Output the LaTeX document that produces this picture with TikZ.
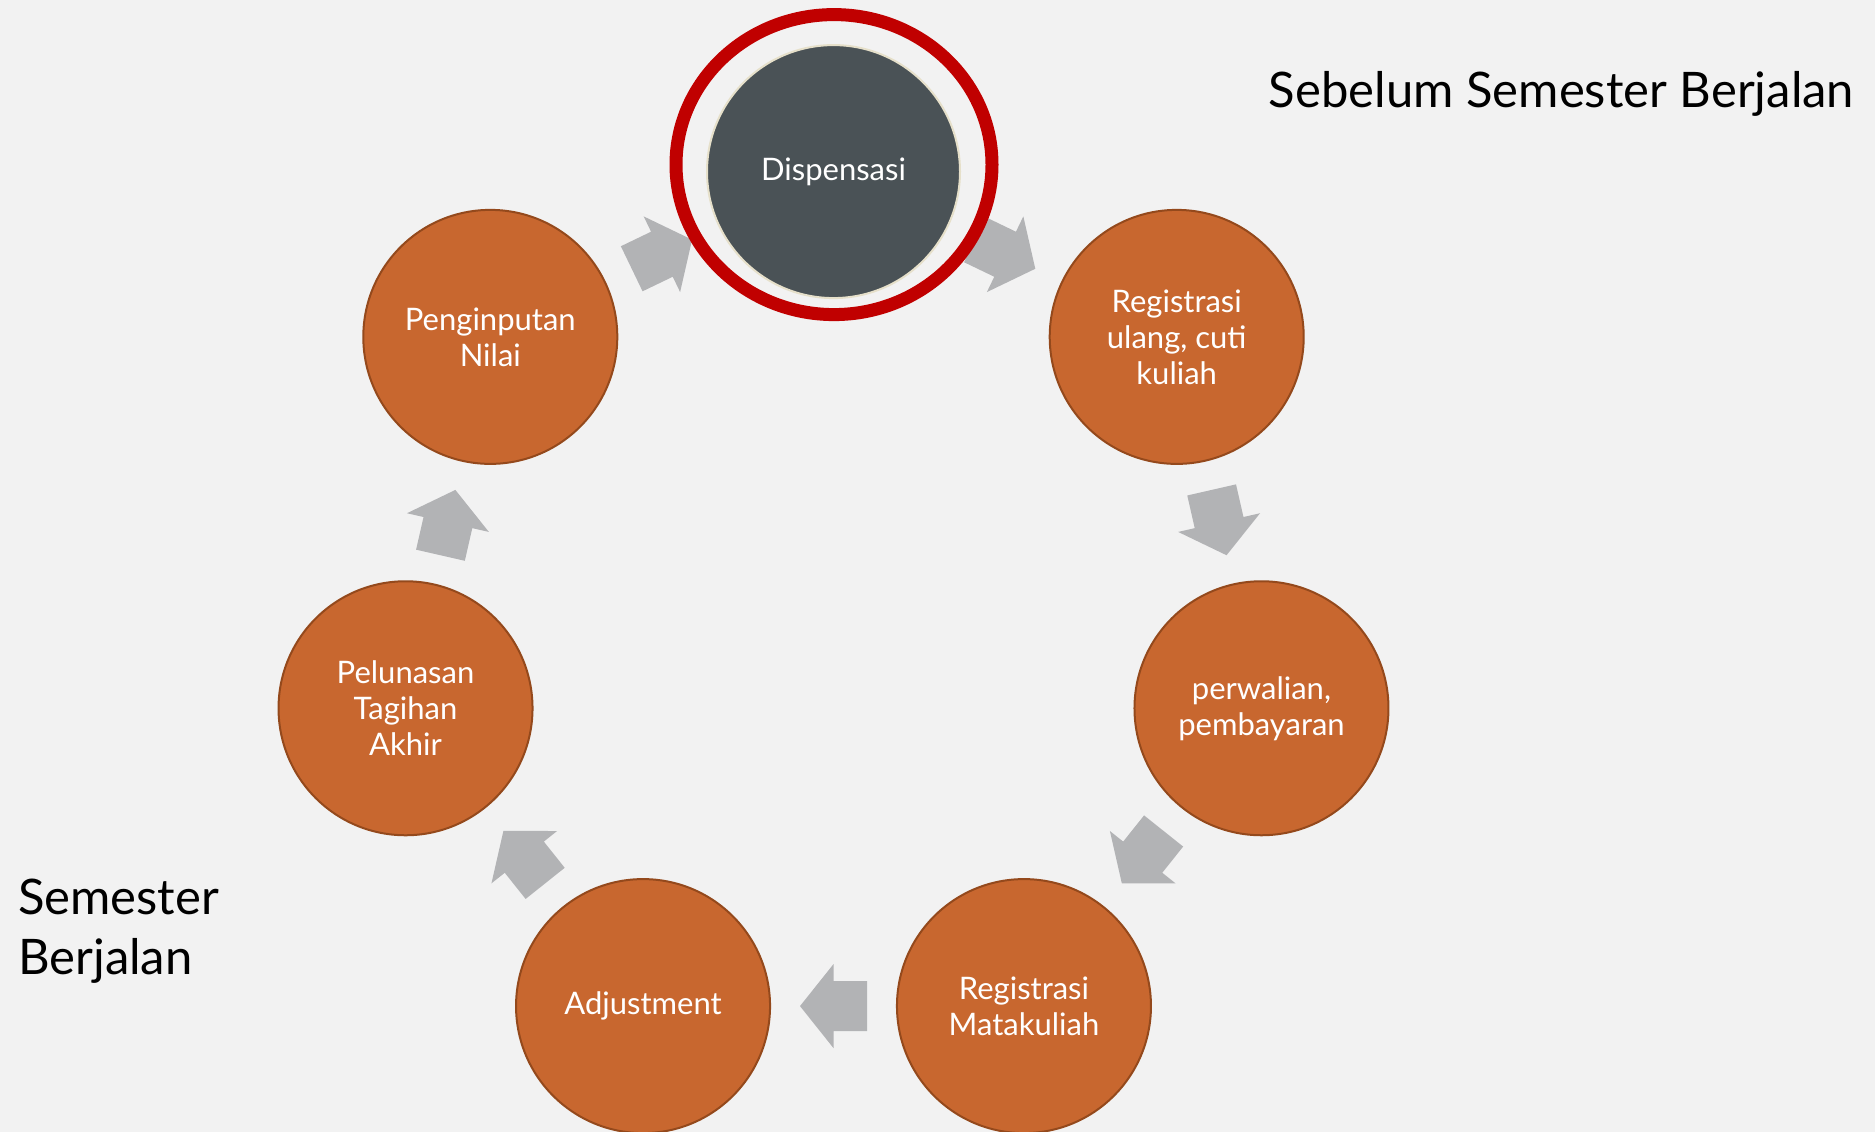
\documentclass[tikz,border=0pt]{standalone}
\usepackage{fontspec}
\setmainfont{Lato}
\usetikzlibrary{calc}

\definecolor{bg}{HTML}{F2F2F2}
\definecolor{orangefill}{HTML}{C8672F}
\definecolor{orangeedge}{HTML}{94491C}
\definecolor{slatefill}{HTML}{4A5256}
\definecolor{slateedge}{HTML}{E6E0CA}
\definecolor{ringred}{HTML}{C00000}
\definecolor{arrowgray}{HTML}{B2B3B5}

\tikzset{
  stage/.style={circle, minimum size=254pt, inner sep=0pt, fill=orangefill,
    draw=orangeedge, line width=2pt, text=white, align=center,
    font=\fontsize{31}{36}\selectfont},
  current/.style={stage, fill=slatefill, draw=slateedge, minimum size=253pt},
  cyclearrow/.style={fill=arrowgray},
  highlight/.style={draw=ringred, line width=13pt},
  heading/.style={inner sep=0pt, text=black, font=\fontsize{49}{60}\selectfont},
}

\begin{document}
\begin{tikzpicture}[x=1pt,y=1pt]
\fill[bg] (0,0) rectangle (1875,1132);
\useasboundingbox (0,0) rectangle (1875,1132);

% centre of the cycle
\coordinate (C) at (833.5,521.4);

% the seven stages, clockwise from the top
\node[current] (n0) at ($(C)+(90:439)$) {Dispensasi};
\node[stage] (n1) at ($(C)+({90-1*360/7}:439)$) {Registrasi\\ulang, cuti\\kuliah};
\node[stage] (n2) at ($(C)+({90-2*360/7}:439)$) {perwalian,\\pembayaran};
\node[stage] (n3) at ($(C)+({90-3*360/7}:439)$) {Registrasi\\Matakuliah};
\node[stage] (n4) at ($(C)+({90-4*360/7}:439)$) {Adjustment};
\node[stage] (n5) at ($(C)+({90-5*360/7}:439)$) {Pelunasan\\Tagihan\\Akhir};
\node[stage] (n6) at ($(C)+({90-6*360/7}:439)$) {Penginputan\\Nilai};

% block arrows halfway between consecutive stages
\foreach \k/\j in {0/1,1/2,2/3,3/4,4/5,5/6,6/0} {
  \pgfmathsetmacro\dir{-(\k+0.5)*360/7}
  \begin{scope}[shift={($(n\k)!0.5!(n\j)$)}, rotate=\dir]
    \fill[cyclearrow] (33.5,0) -- (0,42) -- (0,25) -- (-33.5,25)
      -- (-33.5,-25) -- (0,-25) -- (0,-42) -- cycle;
  \end{scope}
}

% red ring marking the current stage
\draw[highlight] ($(n0)+(0.5,7)$) ellipse [x radius=158, y radius=150];

% phase labels
\node[heading, anchor=base] (before) at (1561.5,1024) {Sebelum Semester Berjalan};
\node[heading, anchor=base west, align=left] (during) at (18,157) {Semester\\Berjalan};
\end{tikzpicture}
\end{document}
